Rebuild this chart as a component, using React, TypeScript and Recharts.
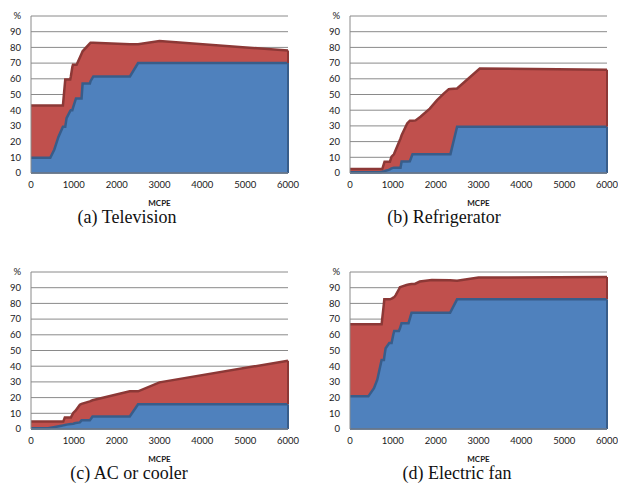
import React from 'react';
import { AreaChart, Area, XAxis, YAxis, CartesianGrid, ReferenceLine } from 'recharts';

const X_TICKS = [0, 1000, 2000, 3000, 4000, 5000, 6000];
const Y_TICKS = [0, 10, 20, 30, 40, 50, 60, 70, 80, 90, 100];

// (a) Television
const tvX = [0, 450, 545, 640, 745, 800, 830, 916, 930, 965, 980, 1050, 1065, 1180, 1205, 1375, 1390, 1455, 2310, 2500, 3000, 6000];
const tvBlue = [9.7, 9.7, 15, 23, 29.5, 29.5, 35, 39.5, 40, 40, 41.5, 47.5, 47.5, 47.5, 57, 57, 58.5, 61.5, 61.5, 70, 70, 70];
const tvTop = [43, 43, 43, 43, 43, 59.5, 59.5, 59.5, 61.5, 67.5, 69, 69, 69, 76, 77.5, 82.5, 83, 83, 82, 82, 84, 78];

// (b) Refrigerator
const frX = [0, 700, 753, 807, 815, 900, 932, 970, 1025, 1150, 1180, 1205, 1335, 1397, 1460, 1530, 1646, 1863, 2033, 2188, 2306, 2345, 2500, 3030, 6000];
const frBlue = [0.4, 0.5, 0.8, 1.2, 1.3, 2, 2.3, 3, 3.4, 3.4, 3.4, 7.3, 7.3, 7.5, 12, 12, 12, 12, 12, 12, 12, 12, 29.5, 29.5, 29.5];
const frTop = [2.5, 2.5, 2.5, 7.2, 7.2, 7.2, 7.2, 10.4, 11.9, 20, 22, 24, 31.6, 33.3, 33.3, 33.5, 35.8, 41, 46.4, 50.6, 53.4, 53.5, 53.8, 66.5, 65.8];

// (c) AC or cooler
const acX = [0, 400, 560, 714, 753, 790, 830, 932, 986, 1040, 1141, 1180, 1374, 1436, 2306, 2500, 3000, 6000];
const acBlue = [0.5, 0.5, 1.3, 2.1, 2.3, 2.5, 2.8, 3.2, 3.4, 3.8, 4.2, 5.5, 5.5, 8, 8, 15.7, 15.7, 15.7];
const acTop = [4.7, 4.7, 4.7, 4.7, 4.7, 7.4, 7.4, 7.4, 10.2, 11.7, 15.5, 16, 17.6, 18.3, 24, 24, 29.7, 43.5];

// (d) Electric fan
const fnX = [0, 428, 560, 637, 738, 792, 801, 832, 917, 932, 971, 1010, 1033, 1071, 1142, 1165, 1204, 1320, 1367, 1437, 1514, 1630, 1910, 2337, 2500, 3000, 6000];
const fnBlue = [20.8, 20.8, 26, 31.4, 44, 44, 46, 51.5, 54.7, 54.7, 54.7, 60, 62.5, 62.5, 62.5, 64, 67.4, 67.4, 67.4, 74, 74, 74, 74, 74, 82.6, 82.6, 82.6];
const fnTop = [66.7, 66.7, 66.7, 66.7, 66.7, 80, 82.6, 82.6, 82.6, 82.6, 83, 83.7, 84, 85.4, 89, 90.3, 90.7, 91.7, 92, 92.3, 92.4, 93.9, 94.9, 94.8, 94.5, 96.5, 96.8];

const CAPTIONS = ['(a) Television', '(b) Refrigerator', '(c) AC or cooler', '(d) Electric fan'];
const X_LABEL = 'MCPE';

const build = (xs: number[], blue: number[], top: number[]) =>
  xs.map((x, i) => ({ x, blue: blue[i], top: top[i] }));

const FONT = 'Lato, "Liberation Sans", sans-serif';
const SERIF = '"Liberation Serif", "Times New Roman", Times, serif';
const GRID = '#8a8a8a';
const RED = '#C0504D';
const RED_LINE = '#8C3836';
const BLUE = '#4F81BD';
const BLUE_LINE = '#385D8A';

function Panel({ left, top, data, caption, captionX }: any) {
  const last = data[data.length - 1];
  return (
    <>
      <div style={{ position: 'absolute', left, top }}>
        <AreaChart width={300} height={200} data={data} margin={{ top: 16, right: 12, bottom: 7, left: 0 }}>
          <CartesianGrid vertical={false} stroke={GRID} strokeWidth={1} />
          <XAxis
            dataKey="x"
            type="number"
            domain={[0, 6000]}
            ticks={X_TICKS}
            interval={0}
            height={20}
            tickLine={false}
            tickSize={6}
            tickMargin={2}
            axisLine={{ stroke: GRID }}
            tick={{ fontSize: 9.5, fill: '#1a1a1a', fontFamily: FONT }}
          />
          <YAxis
            type="number"
            domain={[0, 100]}
            ticks={Y_TICKS}
            interval={0}
            width={31}
            tickLine={false}
            tickSize={6}
            tickMargin={4}
            axisLine={{ stroke: GRID }}
            tick={{ fontSize: 9.5, fill: '#1a1a1a', fontFamily: FONT }}
            tickFormatter={(v: number) => (v === 100 ? '%' : String(v))}
          />
          <Area dataKey="top" type="linear" fill={RED} fillOpacity={1} stroke={RED_LINE} strokeWidth={2.5} dot={false} activeDot={false} isAnimationActive={false} />
          <Area dataKey="blue" type="linear" fill={BLUE} fillOpacity={1} stroke={BLUE_LINE} strokeWidth={2.5} dot={false} activeDot={false} isAnimationActive={false} />
          <ReferenceLine segment={[{ x: last.x, y: last.blue }, { x: last.x, y: last.top }]} stroke={RED_LINE} strokeWidth={2} ifOverflow="visible" />
          <ReferenceLine segment={[{ x: last.x, y: 0 }, { x: last.x, y: last.blue }]} stroke={BLUE_LINE} strokeWidth={2} ifOverflow="visible" />
          <ReferenceLine segment={[{ x: 0, y: 0 }, { x: last.x, y: 0 }]} stroke={BLUE_LINE} strokeWidth={1.5} ifOverflow="visible" />
        </AreaChart>
      </div>
      <div style={{ position: 'absolute', left: left + 31, top: top + 198, width: 257, textAlign: 'center', fontFamily: FONT, fontWeight: 700, fontSize: 8, color: '#1a1a1a' }}>
        {X_LABEL}
      </div>
      <div style={{ position: 'absolute', left: captionX - 100, top: top + 207, width: 200, textAlign: 'center', fontFamily: SERIF, fontSize: 18, color: '#111' }}>
        {caption}
      </div>
    </>
  );
}

export default function App() {
  return (
    <div style={{ position: 'absolute', left: 0, top: 0, width: 618, height: 494, background: '#fff', overflow: 'hidden' }}>
      <Panel left={0} top={0} data={build(tvX, tvBlue, tvTop)} caption={CAPTIONS[0]} captionX={127} />
      <Panel left={319} top={0} data={build(frX, frBlue, frTop)} caption={CAPTIONS[1]} captionX={444} />
      <Panel left={0} top={256} data={build(acX, acBlue, acTop)} caption={CAPTIONS[2]} captionX={129} />
      <Panel left={319} top={256} data={build(fnX, fnBlue, fnTop)} caption={CAPTIONS[3]} captionX={457} />
    </div>
  );
}
